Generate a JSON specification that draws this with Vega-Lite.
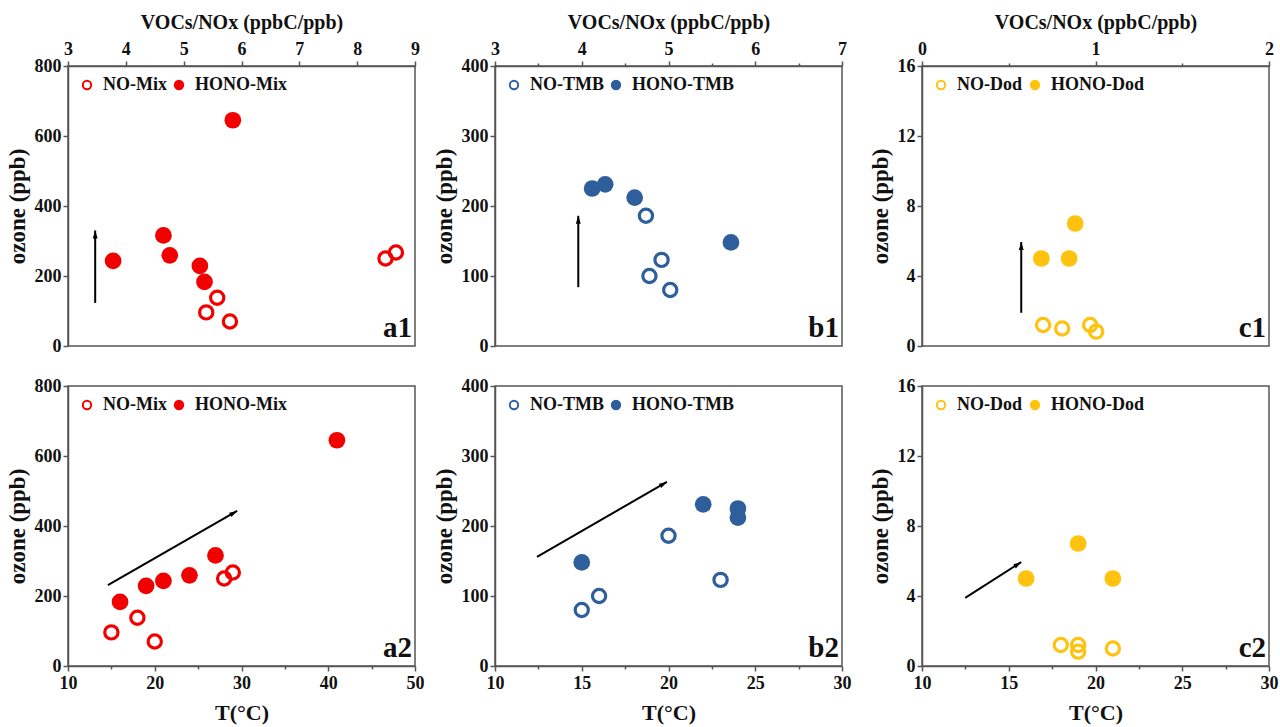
{
  "$schema": "https://vega.github.io/schema/vega-lite/v6.json",
  "padding": {"left": 5, "top": 11, "right": 0, "bottom": 2},
  "background": "white",
  "bounds": "flush",
  "columns": 3,
  "spacing": {"row": 40, "column": 80},
  "config": {
    "font": "Liberation Serif",
    "view": {"stroke": "#555", "strokeWidth": 1.5},
    "axis": {
      "grid": false,
      "labelFont": "Liberation Serif", "labelFontWeight": "bold", "labelFontSize": 18, "labelColor": "#111",
      "titleFont": "Liberation Serif", "titleFontWeight": "bold", "titleFontSize": 22, "titleColor": "#111",
      "domainColor": "#555", "domainWidth": 1.5, "tickColor": "#555", "tickWidth": 1.5,
      "labelFlush": false, "labelOverlap": false, "labelPadding": 2
    },
    "axisY": {"titleFontSize": 23},
    "legend": {
      "labelFont": "Liberation Serif", "labelFontWeight": "bold", "labelFontSize": 18, "labelColor": "#111",
      "orient": "top-left", "direction": "horizontal", "offset": 10, "padding": 0,
      "symbolType": "circle", "symbolSize": 70, "symbolStrokeWidth": 2, "labelOffset": 7, "columnPadding": 3
    }
  },
  "resolve": {
    "scale": {"x": "independent", "y": "independent", "fill": "independent"},
    "axis": {"x": "independent", "y": "independent"},
    "legend": {"fill": "independent"}
  },
  "datasets": {
    "mix": [
      {"type": "HONO-Mix", "ratio": 3.78, "T": 21, "ozone": 243},
      {"type": "HONO-Mix", "ratio": 4.65, "T": 27, "ozone": 316},
      {"type": "HONO-Mix", "ratio": 4.76, "T": 24, "ozone": 259},
      {"type": "HONO-Mix", "ratio": 5.28, "T": 19, "ozone": 229},
      {"type": "HONO-Mix", "ratio": 5.36, "T": 16, "ozone": 183},
      {"type": "HONO-Mix", "ratio": 5.85, "T": 41, "ozone": 645},
      {"type": "NO-Mix", "ratio": 5.58, "T": 18, "ozone": 138},
      {"type": "NO-Mix", "ratio": 5.39, "T": 15, "ozone": 96},
      {"type": "NO-Mix", "ratio": 5.80, "T": 20, "ozone": 70},
      {"type": "NO-Mix", "ratio": 8.49, "T": 28, "ozone": 250},
      {"type": "NO-Mix", "ratio": 8.67, "T": 29, "ozone": 267}
    ],
    "tmb": [
      {"type": "HONO-TMB", "ratio": 4.12, "T": 24, "ozone": 225},
      {"type": "HONO-TMB", "ratio": 4.27, "T": 22, "ozone": 231},
      {"type": "HONO-TMB", "ratio": 4.61, "T": 24, "ozone": 212},
      {"type": "HONO-TMB", "ratio": 5.72, "T": 15, "ozone": 148},
      {"type": "NO-TMB", "ratio": 4.74, "T": 20, "ozone": 186},
      {"type": "NO-TMB", "ratio": 4.92, "T": 23, "ozone": 123},
      {"type": "NO-TMB", "ratio": 4.78, "T": 16, "ozone": 100},
      {"type": "NO-TMB", "ratio": 5.02, "T": 15, "ozone": 80}
    ],
    "dod": [
      {"type": "HONO-Dod", "ratio": 0.688, "T": 16, "ozone": 5},
      {"type": "HONO-Dod", "ratio": 0.848, "T": 21, "ozone": 5},
      {"type": "HONO-Dod", "ratio": 0.883, "T": 19, "ozone": 7},
      {"type": "NO-Dod", "ratio": 0.698, "T": 18, "ozone": 1.2},
      {"type": "NO-Dod", "ratio": 0.969, "T": 19, "ozone": 1.2},
      {"type": "NO-Dod", "ratio": 0.808, "T": 21, "ozone": 1.0},
      {"type": "NO-Dod", "ratio": 1.004, "T": 19, "ozone": 0.82}
    ],
    "arrows": [
      {"panel": "a1", "x1": 3.47, "y1": 123, "x2": 3.47, "y2": 330},
      {"panel": "a2", "x1": 14.6, "y1": 231, "x2": 29.5, "y2": 443},
      {"panel": "b1", "x1": 3.96, "y1": 84, "x2": 3.96, "y2": 186},
      {"panel": "b2", "x1": 12.42, "y1": 156, "x2": 19.91, "y2": 263},
      {"panel": "c1", "x1": 0.572, "y1": 1.9, "x2": 0.572, "y2": 5.94},
      {"panel": "c2", "x1": 12.49, "y1": 3.89, "x2": 15.72, "y2": 5.94}
    ],
    "one": [{"n": 1}]
  },
  "concat": [
    {
      "width": 347, "height": 280,
      "layer": [
        {
          "data": {"name": "mix"},
          "transform": [{"filter": "datum.type === 'NO-Mix'"}],
          "mark": {"type": "point", "shape": "circle", "filled": true, "opacity": 1, "stroke": "#f20000", "strokeWidth": 3.2, "size": 175},
          "encoding": {
            "x": {"field": "ratio", "type": "quantitative", "title": "VOCs/NOx (ppbC/ppb)", "scale": {"domain": [3, 9], "nice": false, "zero": false},
              "axis": {"orient": "top", "titleFontSize": 20, "titlePadding": 8, "labelPadding": 3, "format": "~g",
                "values": [3, 3.5, 4, 4.5, 5, 5.5, 6, 6.5, 7, 7.5, 8, 8.5, 9],
                "labelExpr": "datum.value % 1 === 0 ? datum.label : ''",
                "tickSize": {"condition": {"test": "datum.value % 1 !== 0", "value": 3}, "value": 5}}},
            "y": {"field": "ozone", "type": "quantitative", "title": "ozone (ppb)", "scale": {"domain": [0, 800], "nice": false},
              "axis": {"titlePadding": 5,
                "values": [0, 100, 200, 300, 400, 500, 600, 700, 800],
                "labelExpr": "datum.value % 200 === 0 ? datum.label : ''",
                "tickSize": {"condition": {"test": "datum.value % 200 !== 0", "value": 3}, "value": 5}}},
            "fill": {"field": "type", "type": "nominal", "scale": {"domain": ["NO-Mix", "HONO-Mix"], "range": ["transparent", "#f20000"]},
              "legend": {"title": null, "symbolStrokeColor": "#f20000"}}
          }
        },
        {
          "data": {"name": "mix"},
          "transform": [{"filter": "datum.type === 'HONO-Mix'"}],
          "mark": {"type": "point", "shape": "circle", "filled": true, "opacity": 1, "strokeWidth": 0, "size": 280},
          "encoding": {
            "x": {"field": "ratio", "type": "quantitative", "title": "VOCs/NOx (ppbC/ppb)"},
            "y": {"field": "ozone", "type": "quantitative", "title": "ozone (ppb)"},
            "fill": {"field": "type", "type": "nominal"}
          }
        },
        {
          "data": {"name": "arrows"},
          "transform": [{"filter": "datum.panel === 'a1'"}],
          "mark": {"type": "rule", "color": "black", "strokeWidth": 2},
          "encoding": {
            "x": {"field": "x1", "type": "quantitative", "title": "VOCs/NOx (ppbC/ppb)"}, "y": {"field": "y1", "type": "quantitative", "title": "ozone (ppb)"},
            "x2": {"field": "x2"}, "y2": {"field": "y2"}
          }
        },
        {
          "data": {"name": "arrows"},
          "transform": [{"filter": "datum.panel === 'a1'"}],
          "mark": {"type": "point", "shape": "M0,0L0.55,1.8L-0.55,1.8Z", "filled": true, "color": "black", "opacity": 1, "size": 78, "angle": 0},
          "encoding": {
            "x": {"field": "x2", "type": "quantitative", "title": "VOCs/NOx (ppbC/ppb)"}, "y": {"field": "y2", "type": "quantitative", "title": "ozone (ppb)"}
          }
        },
        {
          "data": {"name": "one"},
          "mark": {"type": "text", "text": "a1", "align": "right", "baseline": "bottom", "dx": -3, "dy": -3, "font": "Liberation Serif", "fontWeight": "bold", "fontSize": 29, "color": "#111"},
          "encoding": {"x": {"datum": 9, "type": "quantitative", "title": "VOCs/NOx (ppbC/ppb)"}, "y": {"datum": 0, "type": "quantitative", "title": "ozone (ppb)"}}
        }
      ]
    },
    {
      "width": 347, "height": 280,
      "layer": [
        {
          "data": {"name": "tmb"},
          "transform": [{"filter": "datum.type === 'NO-TMB'"}],
          "mark": {"type": "point", "shape": "circle", "filled": true, "opacity": 1, "stroke": "#2e5f9c", "strokeWidth": 3.2, "size": 175},
          "encoding": {
            "x": {"field": "ratio", "type": "quantitative", "title": "VOCs/NOx (ppbC/ppb)", "scale": {"domain": [3, 7], "nice": false, "zero": false},
              "axis": {"orient": "top", "titleFontSize": 20, "titlePadding": 8, "labelPadding": 3, "format": "~g",
                "values": [3, 3.5, 4, 4.5, 5, 5.5, 6, 6.5, 7],
                "labelExpr": "datum.value % 1 === 0 ? datum.label : ''",
                "tickSize": {"condition": {"test": "datum.value % 1 !== 0", "value": 3}, "value": 5}}},
            "y": {"field": "ozone", "type": "quantitative", "title": "ozone (ppb)", "scale": {"domain": [0, 400], "nice": false},
              "axis": {"titlePadding": 5,
                "values": [0, 50, 100, 150, 200, 250, 300, 350, 400],
                "labelExpr": "datum.value % 100 === 0 ? datum.label : ''",
                "tickSize": {"condition": {"test": "datum.value % 100 !== 0", "value": 3}, "value": 5}}},
            "fill": {"field": "type", "type": "nominal", "scale": {"domain": ["NO-TMB", "HONO-TMB"], "range": ["transparent", "#2e5f9c"]},
              "legend": {"title": null, "symbolStrokeColor": "#2e5f9c"}}
          }
        },
        {
          "data": {"name": "tmb"},
          "transform": [{"filter": "datum.type === 'HONO-TMB'"}],
          "mark": {"type": "point", "shape": "circle", "filled": true, "opacity": 1, "strokeWidth": 0, "size": 280},
          "encoding": {
            "x": {"field": "ratio", "type": "quantitative", "title": "VOCs/NOx (ppbC/ppb)"},
            "y": {"field": "ozone", "type": "quantitative", "title": "ozone (ppb)"},
            "fill": {"field": "type", "type": "nominal"}
          }
        },
        {
          "data": {"name": "arrows"},
          "transform": [{"filter": "datum.panel === 'b1'"}],
          "mark": {"type": "rule", "color": "black", "strokeWidth": 2},
          "encoding": {
            "x": {"field": "x1", "type": "quantitative", "title": "VOCs/NOx (ppbC/ppb)"}, "y": {"field": "y1", "type": "quantitative", "title": "ozone (ppb)"},
            "x2": {"field": "x2"}, "y2": {"field": "y2"}
          }
        },
        {
          "data": {"name": "arrows"},
          "transform": [{"filter": "datum.panel === 'b1'"}],
          "mark": {"type": "point", "shape": "M0,0L0.55,1.8L-0.55,1.8Z", "filled": true, "color": "black", "opacity": 1, "size": 78, "angle": 0},
          "encoding": {
            "x": {"field": "x2", "type": "quantitative", "title": "VOCs/NOx (ppbC/ppb)"}, "y": {"field": "y2", "type": "quantitative", "title": "ozone (ppb)"}
          }
        },
        {
          "data": {"name": "one"},
          "mark": {"type": "text", "text": "b1", "align": "right", "baseline": "bottom", "dx": -3, "dy": -3, "font": "Liberation Serif", "fontWeight": "bold", "fontSize": 29, "color": "#111"},
          "encoding": {"x": {"datum": 7, "type": "quantitative", "title": "VOCs/NOx (ppbC/ppb)"}, "y": {"datum": 0, "type": "quantitative", "title": "ozone (ppb)"}}
        }
      ]
    },
    {
      "width": 347, "height": 280,
      "layer": [
        {
          "data": {"name": "dod"},
          "transform": [{"filter": "datum.type === 'NO-Dod'"}],
          "mark": {"type": "point", "shape": "circle", "filled": true, "opacity": 1, "stroke": "#ffc20e", "strokeWidth": 3.2, "size": 175},
          "encoding": {
            "x": {"field": "ratio", "type": "quantitative", "title": "VOCs/NOx (ppbC/ppb)", "scale": {"domain": [0, 2], "nice": false, "zero": false},
              "axis": {"orient": "top", "titleFontSize": 20, "titlePadding": 8, "labelPadding": 3, "format": "~g",
                "values": [0, 0.5, 1, 1.5, 2],
                "labelExpr": "datum.value % 1 === 0 ? datum.label : ''",
                "tickSize": {"condition": {"test": "datum.value % 1 !== 0", "value": 3}, "value": 5}}},
            "y": {"field": "ozone", "type": "quantitative", "title": "ozone (ppb)", "scale": {"domain": [0, 16], "nice": false},
              "axis": {"titlePadding": 5,
                "values": [0, 2, 4, 6, 8, 10, 12, 14, 16],
                "labelExpr": "datum.value % 4 === 0 ? datum.label : ''",
                "tickSize": {"condition": {"test": "datum.value % 4 !== 0", "value": 3}, "value": 5}}},
            "fill": {"field": "type", "type": "nominal", "scale": {"domain": ["NO-Dod", "HONO-Dod"], "range": ["transparent", "#ffc20e"]},
              "legend": {"title": null, "symbolStrokeColor": "#ffc20e"}}
          }
        },
        {
          "data": {"name": "dod"},
          "transform": [{"filter": "datum.type === 'HONO-Dod'"}],
          "mark": {"type": "point", "shape": "circle", "filled": true, "opacity": 1, "strokeWidth": 0, "size": 280},
          "encoding": {
            "x": {"field": "ratio", "type": "quantitative", "title": "VOCs/NOx (ppbC/ppb)"},
            "y": {"field": "ozone", "type": "quantitative", "title": "ozone (ppb)"},
            "fill": {"field": "type", "type": "nominal"}
          }
        },
        {
          "data": {"name": "arrows"},
          "transform": [{"filter": "datum.panel === 'c1'"}],
          "mark": {"type": "rule", "color": "black", "strokeWidth": 2},
          "encoding": {
            "x": {"field": "x1", "type": "quantitative", "title": "VOCs/NOx (ppbC/ppb)"}, "y": {"field": "y1", "type": "quantitative", "title": "ozone (ppb)"},
            "x2": {"field": "x2"}, "y2": {"field": "y2"}
          }
        },
        {
          "data": {"name": "arrows"},
          "transform": [{"filter": "datum.panel === 'c1'"}],
          "mark": {"type": "point", "shape": "M0,0L0.55,1.8L-0.55,1.8Z", "filled": true, "color": "black", "opacity": 1, "size": 78, "angle": 0},
          "encoding": {
            "x": {"field": "x2", "type": "quantitative", "title": "VOCs/NOx (ppbC/ppb)"}, "y": {"field": "y2", "type": "quantitative", "title": "ozone (ppb)"}
          }
        },
        {
          "data": {"name": "one"},
          "mark": {"type": "text", "text": "c1", "align": "right", "baseline": "bottom", "dx": -3, "dy": -3, "font": "Liberation Serif", "fontWeight": "bold", "fontSize": 29, "color": "#111"},
          "encoding": {"x": {"datum": 2, "type": "quantitative", "title": "VOCs/NOx (ppbC/ppb)"}, "y": {"datum": 0, "type": "quantitative", "title": "ozone (ppb)"}}
        }
      ]
    },
    {
      "width": 347, "height": 280,
      "layer": [
        {
          "data": {"name": "mix"},
          "transform": [{"filter": "datum.type === 'NO-Mix'"}],
          "mark": {"type": "point", "shape": "circle", "filled": true, "opacity": 1, "stroke": "#f20000", "strokeWidth": 3.2, "size": 175},
          "encoding": {
            "x": {"field": "T", "type": "quantitative", "title": "T(°C)", "scale": {"domain": [10, 50], "nice": false, "zero": false},
              "axis": {"orient": "bottom", "titlePadding": 10, "labelPadding": 3, "format": "~g",
                "values": [10, 15, 20, 25, 30, 35, 40, 45, 50],
                "labelExpr": "datum.value % 10 === 0 ? datum.label : ''",
                "tickSize": {"condition": {"test": "datum.value % 10 !== 0", "value": 3}, "value": 5}}},
            "y": {"field": "ozone", "type": "quantitative", "title": "ozone (ppb)", "scale": {"domain": [0, 800], "nice": false},
              "axis": {"titlePadding": 5,
                "values": [0, 100, 200, 300, 400, 500, 600, 700, 800],
                "labelExpr": "datum.value % 200 === 0 ? datum.label : ''",
                "tickSize": {"condition": {"test": "datum.value % 200 !== 0", "value": 3}, "value": 5}}},
            "fill": {"field": "type", "type": "nominal", "scale": {"domain": ["NO-Mix", "HONO-Mix"], "range": ["transparent", "#f20000"]},
              "legend": {"title": null, "symbolStrokeColor": "#f20000"}}
          }
        },
        {
          "data": {"name": "mix"},
          "transform": [{"filter": "datum.type === 'HONO-Mix'"}],
          "mark": {"type": "point", "shape": "circle", "filled": true, "opacity": 1, "strokeWidth": 0, "size": 280},
          "encoding": {
            "x": {"field": "T", "type": "quantitative", "title": "T(°C)"},
            "y": {"field": "ozone", "type": "quantitative", "title": "ozone (ppb)"},
            "fill": {"field": "type", "type": "nominal"}
          }
        },
        {
          "data": {"name": "arrows"},
          "transform": [{"filter": "datum.panel === 'a2'"}],
          "mark": {"type": "rule", "color": "black", "strokeWidth": 2},
          "encoding": {
            "x": {"field": "x1", "type": "quantitative", "title": "T(°C)"}, "y": {"field": "y1", "type": "quantitative", "title": "ozone (ppb)"},
            "x2": {"field": "x2"}, "y2": {"field": "y2"}
          }
        },
        {
          "data": {"name": "arrows"},
          "transform": [{"filter": "datum.panel === 'a2'"}],
          "mark": {"type": "point", "shape": "M0,0L0.55,1.8L-0.55,1.8Z", "filled": true, "color": "black", "opacity": 1, "size": 78, "angle": 60},
          "encoding": {
            "x": {"field": "x2", "type": "quantitative", "title": "T(°C)"}, "y": {"field": "y2", "type": "quantitative", "title": "ozone (ppb)"}
          }
        },
        {
          "data": {"name": "one"},
          "mark": {"type": "text", "text": "a2", "align": "right", "baseline": "bottom", "dx": -3, "dy": -3, "font": "Liberation Serif", "fontWeight": "bold", "fontSize": 29, "color": "#111"},
          "encoding": {"x": {"datum": 50, "type": "quantitative", "title": "T(°C)"}, "y": {"datum": 0, "type": "quantitative", "title": "ozone (ppb)"}}
        }
      ]
    },
    {
      "width": 347, "height": 280,
      "layer": [
        {
          "data": {"name": "tmb"},
          "transform": [{"filter": "datum.type === 'NO-TMB'"}],
          "mark": {"type": "point", "shape": "circle", "filled": true, "opacity": 1, "stroke": "#2e5f9c", "strokeWidth": 3.2, "size": 175},
          "encoding": {
            "x": {"field": "T", "type": "quantitative", "title": "T(°C)", "scale": {"domain": [10, 30], "nice": false, "zero": false},
              "axis": {"orient": "bottom", "titlePadding": 10, "labelPadding": 3, "format": "~g",
                "values": [10, 12.5, 15, 17.5, 20, 22.5, 25, 27.5, 30],
                "labelExpr": "datum.value % 5 === 0 ? datum.label : ''",
                "tickSize": {"condition": {"test": "datum.value % 5 !== 0", "value": 3}, "value": 5}}},
            "y": {"field": "ozone", "type": "quantitative", "title": "ozone (ppb)", "scale": {"domain": [0, 400], "nice": false},
              "axis": {"titlePadding": 5,
                "values": [0, 50, 100, 150, 200, 250, 300, 350, 400],
                "labelExpr": "datum.value % 100 === 0 ? datum.label : ''",
                "tickSize": {"condition": {"test": "datum.value % 100 !== 0", "value": 3}, "value": 5}}},
            "fill": {"field": "type", "type": "nominal", "scale": {"domain": ["NO-TMB", "HONO-TMB"], "range": ["transparent", "#2e5f9c"]},
              "legend": {"title": null, "symbolStrokeColor": "#2e5f9c"}}
          }
        },
        {
          "data": {"name": "tmb"},
          "transform": [{"filter": "datum.type === 'HONO-TMB'"}],
          "mark": {"type": "point", "shape": "circle", "filled": true, "opacity": 1, "strokeWidth": 0, "size": 280},
          "encoding": {
            "x": {"field": "T", "type": "quantitative", "title": "T(°C)"},
            "y": {"field": "ozone", "type": "quantitative", "title": "ozone (ppb)"},
            "fill": {"field": "type", "type": "nominal"}
          }
        },
        {
          "data": {"name": "arrows"},
          "transform": [{"filter": "datum.panel === 'b2'"}],
          "mark": {"type": "rule", "color": "black", "strokeWidth": 2},
          "encoding": {
            "x": {"field": "x1", "type": "quantitative", "title": "T(°C)"}, "y": {"field": "y1", "type": "quantitative", "title": "ozone (ppb)"},
            "x2": {"field": "x2"}, "y2": {"field": "y2"}
          }
        },
        {
          "data": {"name": "arrows"},
          "transform": [{"filter": "datum.panel === 'b2'"}],
          "mark": {"type": "point", "shape": "M0,0L0.55,1.8L-0.55,1.8Z", "filled": true, "color": "black", "opacity": 1, "size": 78, "angle": 60},
          "encoding": {
            "x": {"field": "x2", "type": "quantitative", "title": "T(°C)"}, "y": {"field": "y2", "type": "quantitative", "title": "ozone (ppb)"}
          }
        },
        {
          "data": {"name": "one"},
          "mark": {"type": "text", "text": "b2", "align": "right", "baseline": "bottom", "dx": -3, "dy": -3, "font": "Liberation Serif", "fontWeight": "bold", "fontSize": 29, "color": "#111"},
          "encoding": {"x": {"datum": 30, "type": "quantitative", "title": "T(°C)"}, "y": {"datum": 0, "type": "quantitative", "title": "ozone (ppb)"}}
        }
      ]
    },
    {
      "width": 347, "height": 280,
      "layer": [
        {
          "data": {"name": "dod"},
          "transform": [{"filter": "datum.type === 'NO-Dod'"}],
          "mark": {"type": "point", "shape": "circle", "filled": true, "opacity": 1, "stroke": "#ffc20e", "strokeWidth": 3.2, "size": 175},
          "encoding": {
            "x": {"field": "T", "type": "quantitative", "title": "T(°C)", "scale": {"domain": [10, 30], "nice": false, "zero": false},
              "axis": {"orient": "bottom", "titlePadding": 10, "labelPadding": 3, "format": "~g",
                "values": [10, 12.5, 15, 17.5, 20, 22.5, 25, 27.5, 30],
                "labelExpr": "datum.value % 5 === 0 ? datum.label : ''",
                "tickSize": {"condition": {"test": "datum.value % 5 !== 0", "value": 3}, "value": 5}}},
            "y": {"field": "ozone", "type": "quantitative", "title": "ozone (ppb)", "scale": {"domain": [0, 16], "nice": false},
              "axis": {"titlePadding": 5,
                "values": [0, 2, 4, 6, 8, 10, 12, 14, 16],
                "labelExpr": "datum.value % 4 === 0 ? datum.label : ''",
                "tickSize": {"condition": {"test": "datum.value % 4 !== 0", "value": 3}, "value": 5}}},
            "fill": {"field": "type", "type": "nominal", "scale": {"domain": ["NO-Dod", "HONO-Dod"], "range": ["transparent", "#ffc20e"]},
              "legend": {"title": null, "symbolStrokeColor": "#ffc20e"}}
          }
        },
        {
          "data": {"name": "dod"},
          "transform": [{"filter": "datum.type === 'HONO-Dod'"}],
          "mark": {"type": "point", "shape": "circle", "filled": true, "opacity": 1, "strokeWidth": 0, "size": 280},
          "encoding": {
            "x": {"field": "T", "type": "quantitative", "title": "T(°C)"},
            "y": {"field": "ozone", "type": "quantitative", "title": "ozone (ppb)"},
            "fill": {"field": "type", "type": "nominal"}
          }
        },
        {
          "data": {"name": "arrows"},
          "transform": [{"filter": "datum.panel === 'c2'"}],
          "mark": {"type": "rule", "color": "black", "strokeWidth": 2},
          "encoding": {
            "x": {"field": "x1", "type": "quantitative", "title": "T(°C)"}, "y": {"field": "y1", "type": "quantitative", "title": "ozone (ppb)"},
            "x2": {"field": "x2"}, "y2": {"field": "y2"}
          }
        },
        {
          "data": {"name": "arrows"},
          "transform": [{"filter": "datum.panel === 'c2'"}],
          "mark": {"type": "point", "shape": "M0,0L0.55,1.8L-0.55,1.8Z", "filled": true, "color": "black", "opacity": 1, "size": 78, "angle": 57},
          "encoding": {
            "x": {"field": "x2", "type": "quantitative", "title": "T(°C)"}, "y": {"field": "y2", "type": "quantitative", "title": "ozone (ppb)"}
          }
        },
        {
          "data": {"name": "one"},
          "mark": {"type": "text", "text": "c2", "align": "right", "baseline": "bottom", "dx": -3, "dy": -3, "font": "Liberation Serif", "fontWeight": "bold", "fontSize": 29, "color": "#111"},
          "encoding": {"x": {"datum": 30, "type": "quantitative", "title": "T(°C)"}, "y": {"datum": 0, "type": "quantitative", "title": "ozone (ppb)"}}
        }
      ]
    }
  ]
}
